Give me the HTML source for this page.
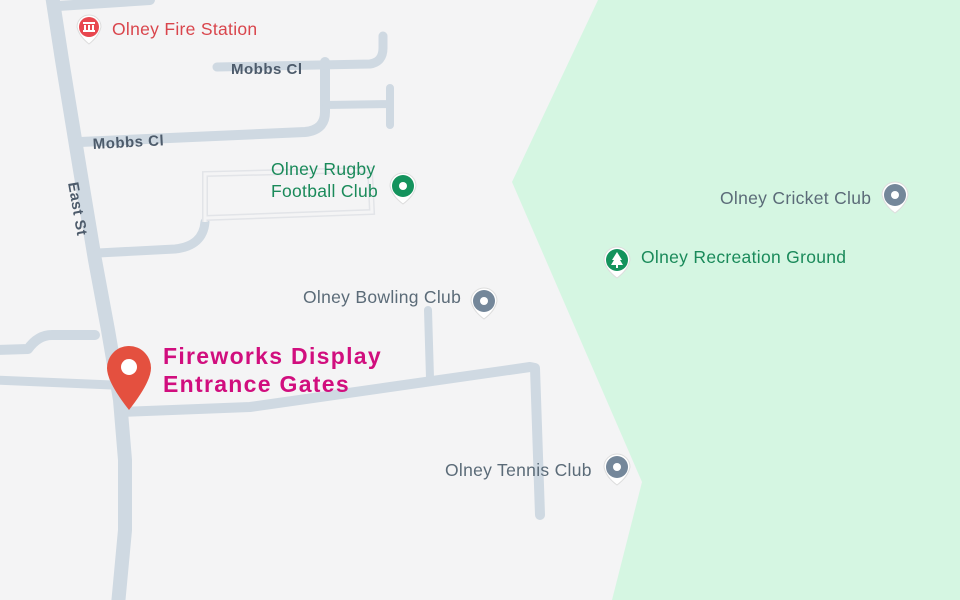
<!DOCTYPE html>
<html><head><style>
body{margin:0;width:960px;height:600px;overflow:hidden;background:#f4f4f5}
svg{display:block}
text{font-family:"Liberation Sans",sans-serif}
</style></head><body>
<svg width="960" height="600" viewBox="0 0 960 600" xmlns="http://www.w3.org/2000/svg">
<rect width="960" height="600" fill="#f4f4f5"/>
<polygon points="598,0 960,0 960,600 612,600 642,482 512,182" fill="#d5f6e2"/>
<g fill="none" stroke="#cfd9e2" stroke-linecap="round" stroke-linejoin="round">
<path d="M52,-5 L62,60 L80,170 L95,260 L108,330 L120,400 L125,460 L125,530 L118,605" stroke-width="14"/>
<path d="M58,6 L150,0" stroke-width="10"/>
<path d="M80,142 L305,132 Q325,130 325,112 L325,62" stroke-width="10"/>
<path d="M217,67 L370,64 Q383,62 383,48 L383,36" stroke-width="9"/>
<path d="M326,105 L390,104 M390,88 L390,125" stroke-width="8"/>
<path d="M98,253 L175,249 Q203,246 205,222" stroke-width="9"/>
<path d="M-5,350 L28,349 Q38,335 52,335 L95,335" stroke-width="10"/>
<path d="M-5,380 L112,385" stroke-width="9"/>
<path d="M122,412 L250,407 L530,367 L535,368 L540,515" stroke-width="10"/>
<path d="M428,310 L430,378" stroke-width="8"/>
</g>
<path d="M205,222 L205,174 L370,170 L372,212 L205,218" fill="none" stroke="#e2e4e8" stroke-width="6"/>
<path d="M205,222 L205,174 L370,170 L372,212 L205,218" fill="none" stroke="#f4f4f5" stroke-width="3"/>
<g font-size="17.5" letter-spacing="0.3">
<text x="112" y="35" fill="#d9454c">Olney Fire Station</text>
<text x="271" y="175" fill="#1a8a5a">Olney Rugby</text>
<text x="271" y="197" fill="#1a8a5a">Football Club</text>
<text x="303" y="303" fill="#5b6b78">Olney Bowling Club</text>
<text x="445" y="476" fill="#5b6b78">Olney Tennis Club</text>
<text x="720" y="204" fill="#5b6b78">Olney Cricket Club</text>
<text x="641" y="263" fill="#1a8a5a">Olney Recreation Ground</text>
</g>
<g font-size="15" font-weight="bold" fill="#4d5b6b" letter-spacing="0.5">
<text x="231" y="74">Mobbs Cl</text>
<text x="93" y="149" transform="rotate(-3 93 149)">Mobbs Cl</text>
<text x="68" y="183" transform="rotate(80 68 183)">East St</text>
</g>
<g font-size="23" font-weight="bold" fill="#d10e7e" letter-spacing="1.3">
<text x="163" y="364">Fireworks Display</text>
<text x="163" y="392">Entrance Gates</text>
</g>
<g>
<path d="M77,27 a12,12 0 1 1 24,0 Q99,36 89,44 Q79,36 77,27Z" fill="#fff" stroke="#ddd"/>
<circle cx="89" cy="27" r="10" fill="#e8474f"/>
<rect x="83" y="22" width="12" height="2" fill="#fff"/><rect x="84" y="25" width="2" height="5" fill="#fff"/><rect x="88" y="25" width="2" height="5" fill="#fff"/><rect x="92" y="25" width="2" height="5" fill="#fff"/><rect x="83" y="30" width="12" height="2" fill="#fff"/>
</g>
<g>
<path d="M390,186 a13,13 0 1 1 26,0 Q414,196 403,204 Q392,196 390,186Z" fill="#fff" stroke="#ddd"/>
<circle cx="403" cy="186" r="11" fill="#14935d"/><circle cx="403" cy="186" r="4" fill="#fff"/>
</g>
<g>
<path d="M471,301 a13,13 0 1 1 26,0 Q495,311 484,319 Q473,311 471,301Z" fill="#fff" stroke="#ddd"/>
<circle cx="484" cy="301" r="11" fill="#74879a"/><circle cx="484" cy="301" r="4" fill="#fff"/>
</g>
<g>
<path d="M604,467 a13,13 0 1 1 26,0 Q628,477 617,485 Q606,477 604,467Z" fill="#fff" stroke="#ddd"/>
<circle cx="617" cy="467" r="11" fill="#74879a"/><circle cx="617" cy="467" r="4" fill="#fff"/>
</g>
<g>
<path d="M882,195 a13,13 0 1 1 26,0 Q906,205 895,213 Q884,205 882,195Z" fill="#fff" stroke="#ddd"/>
<circle cx="895" cy="195" r="11" fill="#74879a"/><circle cx="895" cy="195" r="4" fill="#fff"/>
</g>
<g>
<path d="M604,260 a13,13 0 1 1 26,0 Q628,270 617,278 Q606,270 604,260Z" fill="#fff" stroke="#ddd"/>
<circle cx="617" cy="260" r="11" fill="#14935d"/>
<polygon points="617,252 622,260 620,260 623,265 611,265 614,260 612,260" fill="#fff"/><rect x="616" y="265" width="2" height="3" fill="#fff"/>
</g>
<path d="M129,346 a22,22 0 0 1 22,22 Q151,382 129,410 Q107,382 107,368 a22,22 0 0 1 22,-22Z" fill="#e4503f"/>
<circle cx="129" cy="367" r="8" fill="#fff"/>
</svg>
</body></html>
